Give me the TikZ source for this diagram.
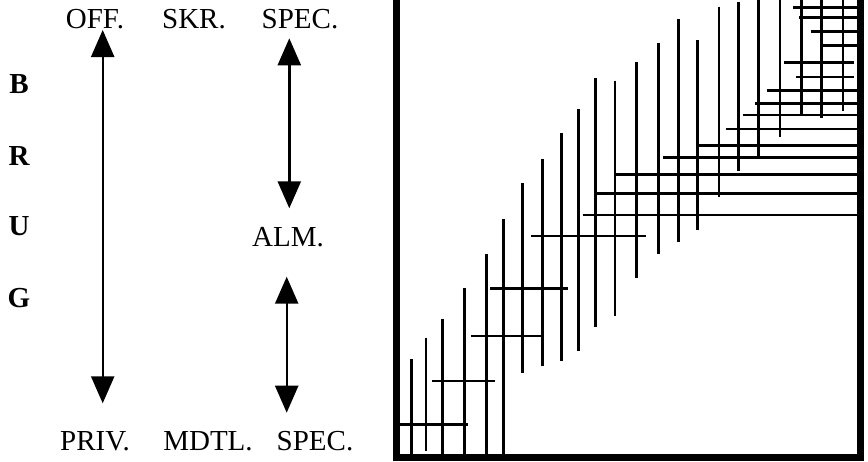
\documentclass[tikz,border=0pt]{standalone}
\usepackage{fontspec}
\setmainfont{Liberation Serif}
\usetikzlibrary{arrows.meta}
\begin{document}
\begin{tikzpicture}[x=1pt,y=-1pt,
  lbl/.style={font=\fontsize{29}{34}\selectfont, inner sep=0pt, anchor=base},
  blbl/.style={font=\fontsize{29}{34}\selectfont\bfseries, inner sep=0pt, anchor=base},
  dbl/.style={line width=2.4pt, {Triangle[length=27pt,width=23pt]}-{Triangle[length=27pt,width=23pt]}},
  gridline/.style={line width=2.6pt},
  frame/.style={line width=7pt, line join=miter}]
\useasboundingbox (0,0) rectangle (868,461);
% labels
\node[lbl] (off) at (95,28) {OFF.};
\node[lbl] (skr) at (194,28) {SKR.};
\node[lbl] (spect) at (300,28) {SPEC.};
\node[lbl] (alm) at (288,246.5) {ALM.};
\node[lbl] (priv) at (95,450.5) {PRIV.};
\node[lbl] (mdtl) at (208,450.5) {MDTL.};
\node[lbl] (specb) at (315,450.5) {SPEC.};
\node[blbl] (b) at (19,93) {B};
\node[blbl] (r) at (19,165) {R};
\node[blbl] (u) at (19,235) {U};
\node[blbl] (g) at (19,307) {G};
% arrows
\coordinate (a1t) at (102.7,30);
\coordinate (a1b) at (102.7,403.3);
\coordinate (a2t) at (289.3,38.3);
\coordinate (a2b) at (289.3,208.3);
\coordinate (a3t) at (286.7,276.7);
\coordinate (a3b) at (286.7,412.7);
\draw[dbl] (a1t) -- (a1b);
\draw[dbl] (a2t) -- (a2b);
\draw[dbl] (a3t) -- (a3b);
% vertical lines
\foreach \x/\a/\b in {411.3/359/457, 426/337.7/451, 442.7/318.7/457, 464.7/287.7/457,
  486.7/254/457, 503.3/218.7/457, 522.7/183/372.7, 542.5/159.3/365.7,
  561.5/133/361.3, 578.7/109/351.3, 595.3/78.3/327.3, 615/80.7/315.7,
  636.7/61.7/277.7, 658.5/42.7/254, 678.2/19/242, 697.5/40.3/230,
  719/6.7/196.7, 738.5/2.3/170.7, 758.2/0/156.5, 780/0/137.3,
  801.7/0/115.7, 821.3/0/118, 843/0/111}
  \draw[gridline] (\x,\a) -- (\x,\b);
% horizontal lines
\foreach \y/\a/\b in {424.3/400/468.3, 381/432/495, 336/470.7/541.7, 288.5/490.3/567.5,
  236/531.3/645.7, 214.8/582.5/857, 193.3/594.3/857, 174.3/614.3/857,
  157.7/662.7/857, 145.7/697.3/857, 129.1/725.7/857, 115/742.7/857,
  103.3/755/857, 90.5/766.7/857, 77/796/854, 62.3/784/854,
  45.3/821/857, 31.7/810.7/857, 17.3/798.5/857, 7.3/793.3/857}
  \draw[gridline] (\a,\y) -- (\b,\y);
% frame
\draw[frame] (396.5,0) -- (396.5,457.5) -- (860.5,457.5) -- (860.5,0);
\end{tikzpicture}
\end{document}
